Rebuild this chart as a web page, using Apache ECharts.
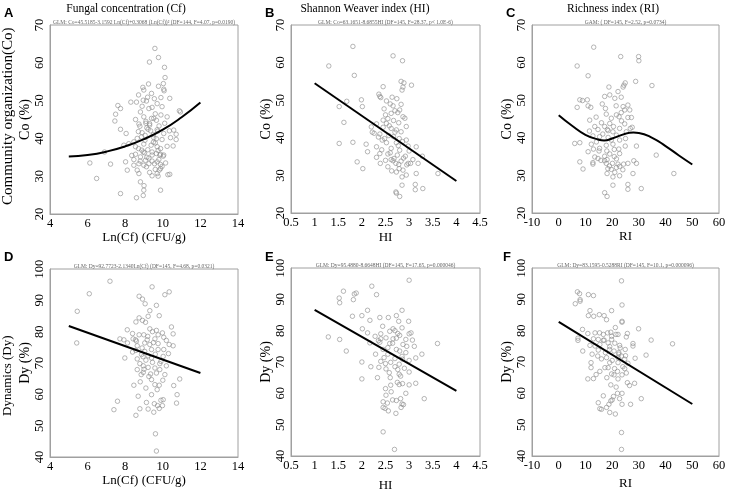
<!DOCTYPE html>
<html><head><meta charset="utf-8">
<script src="https://cdn.jsdelivr.net/npm/echarts@6/dist/echarts.min.js"></script>
<style>html,body{margin:0;padding:0;background:#fff}#c{width:730px;height:493px}</style>
</head><body><div id="c"></div>
<script>
// Panel A: Ln(Cf) vs Co
const aCf=[9.58,9.77,9.29,10.09,10.12,10.03,10.05,10.07,9.24,9.77,8.94,8.99,8.71,9.40,9.19,9.13,10.37,7.61,7.75,8.30,8.60,8.96,7.49,8.81,8.99,9.26,9.43,9.70,9.96,10.94,10.88,7.45,9.40,9.52,9.66,10.23,8.73,8.78,7.75,8.05,9.15,9.22,9.35,9.70,9.73,10.05,10.35,10.58,10.71,8.87,9.06,9.52,9.66,9.96,10.41,10.71,8.46,8.64,8.19,8.99,9.38,9.70,9.88,10.23,10.55,7.93,8.71,8.88,9.43,9.66,9.84,10.02,8.96,8.55,6.12,7.22,6.48,6.90,7.75,8.60,8.96,8.99,9.00,8.81,9.88,9.43,9.70,9.81,9.88,10.27,10.37,8.64,8.11,8.73,8.46,8.73,8.99,9.13,9.26,9.43,9.56,9.70,9.88,9.96,8.46,8.81,9.08,9.26,9.79,8.55,9.03,9.43,9.88,10.05,8.02,9.10,9.30,9.60,8.90,9.50,9.10,9.30,9.50,9.80,9.05,9.20,9.60,8.80,9.30,9.60,9.75,8.70,9.90,10.10,8.90,9.55,9.90,8.55,9.15,9.75,10.15,8.35];
const aCo=[63.8,61.4,60.2,58.8,56.1,54.5,53.0,52.6,54.4,53.8,53.5,52.8,51.5,51.9,50.9,49.9,50.6,48.7,47.9,49.6,49.6,50.1,46.4,47.0,45.7,47.9,48.2,49.2,48.4,47.0,47.3,44.6,45.3,45.3,44.8,45.7,43.8,43.2,42.4,41.3,42.8,42.4,42.0,42.3,41.9,41.3,42.0,42.2,41.1,40.4,40.8,40.2,39.9,39.7,40.2,39.7,39.1,40.0,38.6,38.5,38.2,37.8,37.3,37.9,38.0,38.2,37.3,36.9,36.4,36.0,35.6,35.3,36.4,37.8,33.5,33.2,29.4,36.4,25.4,24.3,24.9,26.3,27.5,28.5,26.3,30.1,30.7,31.6,32.0,30.4,30.5,31.6,31.6,30.7,32.9,33.3,32.9,32.5,33.3,34.0,33.3,33.8,33.1,32.6,34.4,35.1,34.2,34.8,34.4,35.8,36.2,35.6,35.8,35.6,33.8,44.0,43.5,46.5,41.5,39.0,44.5,43.9,41.0,43.3,39.5,37.0,38.8,34.0,31.0,31.8,36.8,41.8,46.2,44.0,48.5,50.5,50.8,45.0,35.0,30.0,33.5,35.5];
const aFitX=[5,6,7,8,9,10,11,12];
const aFitY=[35.2,35.6,36.5,37.9,39.8,42.3,45.6,49.5];
// Panel B: HI vs Co
const bHI=[1.30,1.81,2.66,2.86,1.84,2.83,3.05,2.89,2.87,2.45,2.85,2.36,2.38,2.40,2.64,2.74,2.52,1.68,1.99,2.01,1.52,2.66,2.83,2.80,2.76,2.62,2.50,2.87,2.91,2.55,2.45,2.67,1.62,2.94,2.52,2.31,2.45,2.20,2.62,2.73,2.83,2.26,2.38,2.57,2.67,2.79,2.94,1.81,1.52,2.09,2.43,2.52,2.73,2.98,3.15,2.31,2.62,2.80,2.12,2.38,2.55,2.75,2.92,3.28,2.31,2.62,2.66,2.83,3.08,1.90,2.39,2.72,2.98,3.03,3.19,2.02,2.55,2.79,2.87,2.73,3.15,3.61,2.94,2.85,2.85,3.13,3.13,3.29,2.73,2.80,2.72,2.58,2.70,2.48,2.77,2.60,2.68,2.88,2.50,2.95,2.78,2.63,2.47,2.70,2.60,2.78,2.35,2.86,2.42,2.22,3.00];
const bCo=[59.1,64.3,61.8,60.5,56.6,55.0,54.0,54.6,53.5,53.6,52.7,51.6,51.0,50.7,50.8,50.4,49.8,49.7,50.1,48.3,48.3,48.5,48.9,47.4,46.7,46.5,46.1,45.6,45.2,45.1,44.7,44.6,44.1,43.0,43.8,43.7,42.8,42.9,42.5,42.1,41.6,41.2,41.0,40.6,40.3,39.8,39.4,38.8,38.5,38.3,39.4,38.7,38.7,37.8,37.6,37.6,37.2,36.7,36.3,35.8,35.7,35.4,35.1,35.1,34.8,34.2,33.9,33.8,34.2,33.6,33.2,33.2,33.2,33.2,33.2,31.8,32.3,31.8,31.4,30.9,30.5,30.5,30.1,29.6,27.4,27.6,26.2,26.5,25.3,24.4,25.6,43.2,41.5,39.8,37.9,36.0,34.5,34.6,34.0,32.8,32.9,31.2,47.7,47.2,49.0,44.0,40.2,39.0,36.8,41.5,36.5];
const bFitX=[1,4];
const bFitY=[54.5,28.5];
// Panel C: RI vs Co
const cRI=[13.1,29.9,23.2,30.0,6.9,11.0,28.8,34.9,24.9,24.4,24.1,18.8,22.2,7.9,8.9,10.7,17.2,19.1,21.0,23.4,6.9,11.0,12.0,16.3,25.9,26.6,24.1,24.7,23.4,21.6,17.8,19.7,25.9,27.2,22.6,11.6,19.1,16.0,17.2,24.7,26.8,22.8,13.5,14.7,18.5,20.3,21.6,25.3,12.8,15.3,18.5,19.7,22.8,6.0,7.9,12.2,14.1,17.8,20.3,24.9,29.1,20.8,15.3,15.1,11.0,19.1,22.8,17.2,36.5,13.5,14.7,18.1,21.6,17.2,12.8,7.9,17.8,20.1,22.2,24.3,25.9,29.1,12.8,18.4,19.7,21.6,22.8,28.1,9.1,18.1,22.8,27.8,43.1,20.3,20.3,25.9,25.9,30.9,17.2,18.1,20.5,18.0,22.5,16.5,23.5,19.0,21.0,15.8,25.0,17.5,14.0,13.0,21.5,27.5,11.5,18.2,20.8,24.0];
const cCo=[64.1,61.6,61.6,60.5,59.1,56.5,55.0,53.9,54.6,54.0,53.5,53.5,52.3,50.1,49.9,50.1,51.0,51.4,50.5,50.8,48.1,48.5,48.1,49.0,48.7,47.4,48.3,47.4,46.7,46.1,46.3,45.2,45.4,45.4,45.6,44.7,43.8,44.0,43.0,43.7,42.5,42.5,43.0,42.2,41.9,41.6,40.7,41.6,40.5,40.3,40.1,39.4,39.4,38.5,38.7,38.3,38.9,38.0,38.3,37.8,37.8,36.9,37.2,36.5,36.3,35.7,35.8,35.1,35.4,34.9,34.5,34.2,34.4,33.9,33.4,33.6,33.2,33.2,33.0,33.0,33.2,33.2,33.0,31.8,31.6,32.1,32.4,33.9,31.7,30.5,29.9,30.5,30.5,29.6,27.4,27.6,26.3,26.5,25.4,24.4,43.0,36.5,37.0,41.0,44.5,32.5,30.8,34.0,39.8,47.8,45.5,37.0,48.5,42.8,41.8,42.2,35.0,31.5];
const cFitX=[0,5,10,15,17,20,25,28,30,35,40,45,50];
const cFitY=[46.0,43.2,40.8,39.5,39.3,39.8,41.1,41.4,41.3,40.0,37.8,35.3,32.9];
// Panel D: Ln(Cf) vs Dy
const dCf=[7.19,6.09,5.45,5.42,9.43,8.74,8.92,10.11,10.34,9.06,9.66,9.31,9.22,9.81,8.74,8.92,8.57,9.08,10.46,8.11,9.31,9.66,9.98,8.39,8.74,8.99,10.05,10.55,7.72,7.93,8.42,8.55,9.17,9.58,10.19,10.34,10.55,8.12,8.64,9.04,9.31,9.75,10.05,8.57,9.04,9.40,9.75,8.39,8.87,9.22,9.40,10.02,7.98,8.64,9.10,9.45,9.84,8.78,8.96,9.22,10.19,9.58,9.84,8.64,8.96,9.66,10.11,8.85,9.26,10.90,9.40,9.81,8.46,10.58,9.58,8.69,9.40,10.02,9.90,9.13,10.76,7.59,10.73,9.72,9.98,9.81,8.78,9.22,7.40,9.52,8.57,9.61,9.66,9.50,9.20,8.90,9.60,9.00,9.35,9.70,8.80,9.90,9.45,8.60,10.30,9.10,9.55,8.95,9.75,10.00];
const dDy=[96.1,92.1,86.5,76.4,94.3,91.3,90.4,91.8,92.7,88.9,88.4,86.7,84.9,85.1,84.4,83.6,83.1,83.0,81.5,80.6,80.9,80.4,79.6,79.4,79.0,79.0,78.2,79.3,77.7,77.4,77.7,77.4,77.4,77.7,77.2,75.9,75.5,76.4,75.5,76.4,75.9,76.2,74.3,74.0,73.7,74.3,74.3,73.5,72.7,72.3,71.6,72.1,71.6,71.3,70.9,70.2,69.8,69.8,69.1,68.6,69.1,68.4,67.9,67.9,67.0,66.8,66.3,66.3,65.7,64.9,64.7,62.9,62.9,62.8,63.1,59.4,59.9,58.3,58.1,57.4,59.9,57.8,57.2,56.4,56.4,55.5,55.4,55.3,55.1,54.3,53.3,47.4,41.9,76.5,78.5,74.8,72.8,68.0,66.5,61.5,64.0,70.5,80.0,77.0,73.0,62.0,57.0,72.0,79.0,64.5];
const dFitX=[5,12];
const dFitY=[81.8,66.8];
// Panel E: HI vs Dy
const eHI=[3.00,1.29,1.53,1.67,1.52,1.53,1.61,1.84,1.88,1.82,1.80,2.00,2.12,2.31,2.21,2.85,2.38,2.56,2.73,2.78,2.99,2.01,2.17,2.44,2.66,2.85,3.04,2.12,2.59,2.76,3.00,2.28,2.40,2.51,2.66,2.73,2.93,3.07,2.17,2.38,2.59,2.87,3.11,3.60,2.55,2.73,2.93,2.29,3.27,3.14,2.47,2.70,2.86,3.00,2.00,2.40,2.61,2.79,2.19,2.36,2.51,2.76,3.00,2.58,2.79,2.33,2.00,2.82,3.14,2.86,2.79,2.61,3.00,2.93,2.51,2.82,2.65,3.32,2.73,2.45,2.54,2.85,2.88,2.45,2.49,2.56,2.72,2.83,2.45,2.69,2.65,2.55,2.80,2.45,2.70,2.90,2.60,2.75,2.40,2.85,2.50,2.95,2.62,2.70,2.35,2.80,2.50];
const eDy=[96.1,78.0,77.2,73.5,90.4,88.9,92.6,91.7,92.0,89.9,84.6,84.8,86.5,91.5,94.2,86.5,84.2,84.2,84.8,83.0,83.0,80.6,83.3,81.4,80.6,80.9,79.3,79.3,79.8,79.1,79.0,78.2,77.4,77.7,77.4,77.6,77.2,77.0,76.1,76.3,75.9,75.6,75.0,75.9,74.6,74.0,73.0,72.5,72.5,71.3,71.4,71.1,70.9,70.5,70.0,70.2,69.9,69.3,68.5,68.3,67.8,67.6,66.8,66.6,66.1,65.0,64.6,65.5,63.2,63.1,62.8,62.6,62.7,60.0,59.4,58.3,57.9,58.3,57.7,57.3,56.9,56.6,56.4,55.5,55.2,54.4,53.6,55.5,47.7,42.1,76.0,72.5,73.5,74.0,68.5,68.0,65.0,63.5,79.0,71.8,69.5,75.0,60.5,80.0,76.8,78.5,61.5];
const eFitX=[1,4];
const eFitY=[86.6,60.8];
// Panel F: RI vs Dy
const fRI=[23.5,7.0,7.8,6.2,8.0,8.0,11.1,13.0,23.7,11.7,19.8,11.1,13.1,15.2,17.0,17.9,23.7,23.7,21.2,8.9,29.9,25.7,7.2,7.2,10.9,13.6,15.3,16.7,18.3,19.8,21.4,22.2,25.3,34.6,42.6,27.8,27.8,13.0,14.8,16.7,18.5,19.8,11.7,13.6,15.4,19.1,22.8,24.9,9.0,14.8,20.7,22.5,23.5,32.7,14.6,17.9,22.2,24.7,28.6,12.1,19.1,22.2,25.9,12.1,17.3,18.5,20.9,24.7,15.4,19.8,20.7,23.7,25.3,10.9,13.0,22.2,25.7,28.4,26.5,19.5,22.0,23.7,16.7,20.0,19.5,18.8,23.7,26.9,30.9,14.8,15.4,16.0,17.9,19.1,21.2,22.8,23.5,23.5,19.0,21.0,17.5,22.5,20.0,18.0,24.0,16.0,21.5,23.0,19.5,25.0,14.0,22.0,17.0,20.5,12.5];
const fDy=[95.9,92.4,91.8,88.6,89.9,89.4,91.5,91.2,88.2,86.4,86.4,84.8,84.6,85.1,84.8,83.5,83.0,82.7,81.0,80.4,80.6,79.1,77.6,76.9,79.1,79.3,79.3,78.8,79.3,78.2,78.8,78.8,78.0,77.0,75.8,75.9,75.1,77.4,77.2,76.9,76.1,77.2,75.3,75.1,75.6,74.9,75.3,74.0,73.5,73.8,73.5,73.0,71.9,72.2,71.9,71.4,71.4,70.9,71.2,69.8,69.8,69.8,69.6,68.2,68.2,68.2,67.9,67.9,67.0,66.2,65.9,65.9,66.5,64.6,64.7,64.6,63.4,63.2,62.5,62.7,60.0,60.0,59.2,57.9,57.6,56.5,56.5,56.5,58.3,57.0,55.1,54.9,55.5,53.9,53.4,58.3,47.5,42.1,74.0,76.0,73.0,72.5,70.5,65.0,68.5,71.0,62.0,74.5,79.5,72.0,66.0,67.0,77.0,59.0,72.5];
const fFitX=[0,50];
const fFitY=[82.8,56.6];

const titles=['Fungal concentration (Cf)','Shannon Weaver index (HI)','Richness index (RI)'];
const letters=['A','B','C','D','E','F'];
const eqs=['GLM: Co=45.5185-3.1592 Ln(Cf)+0.3068 (Ln(Cf))² (DF=144, F=4.07, p=0.0190)',
 'GLM: Co=63.1651-8.6855HI (DF=145, F=28.37, p< 1.0E-6)',
 'GAM: ( DF=145, F=2.52, p=0.0734)',
 'GLM: Dy=92.7723-2.1340Ln(Cf) (DF=145, F=4.68, p=0.0321)',
 'GLM: Dy=95.4880-8.6648HI (DF=145, F=17.65, p=0.000046)',
 'GLM: Dy=83.1595-0.5288RI (DF=145, F=10.1, p=0.000096)'];
const xNames=['Ln(Cf) (CFU/g)','HI','RI','Ln(Cf) (CFU/g)','HI','RI'];
const yNames=['Co (%)','Co (%)','Co (%)','Dy (%)','Dy (%)','Dy (%)'];
const xRanges=[[4,14,2],[0.5,4.5,0.5],[-10,60,10],[4,14,2],[0.5,4.5,0.5],[-10,60,10]];
const yRanges=[[20,70,10],[20,70,10],[20,70,10],[40,100,10],[40,100,10],[40,100,10]];

const pts=[[aCf,aCo],[bHI,bCo],[cRI,cCo],[dCf,dDy],[eHI,eDy],[fRI,fDy]];
const fits=[[aFitX,aFitY],[bFitX,bFitY],[cFitX,cFitY],[dFitX,dFitY],[eFitX,eFitY],[fFitX,fFitY]];

const grids=[
 {left:50,top:25,width:188,height:189},
 {left:291,top:25,width:189,height:188},
 {left:532,top:25,width:187,height:188},
 {left:50,top:269,width:188,height:188},
 {left:291,top:268,width:189,height:188},
 {left:532,top:268,width:187,height:188}];
const xNameGap=[17,18,17,15,23,21];

const serif='"Liberation Serif","Times New Roman",serif';
const gray='#a0a0a0';
const option={animation:false,grid:[],xAxis:[],yAxis:[],series:[],graphic:[]};
grids.forEach((g,i)=>{
 option.grid.push(Object.assign({show:true,borderColor:gray,borderWidth:1,backgroundColor:'#fff'},g));
 option.xAxis.push({type:'value',gridIndex:i,min:xRanges[i][0],max:xRanges[i][1],interval:xRanges[i][2],
  axisLine:{onZero:false,lineStyle:{color:gray}},axisTick:{show:false},splitLine:{show:false},
  axisLabel:{color:'#000',fontFamily:serif,fontSize:12.5,margin:3,showMinLabel:true,showMaxLabel:true},
  name:xNames[i],nameLocation:'middle',nameGap:xNameGap[i],nameTextStyle:{color:'#000',fontFamily:serif,fontSize:13}});
 option.yAxis.push({type:'value',gridIndex:i,min:yRanges[i][0],max:yRanges[i][1],interval:yRanges[i][2],
  axisLine:{onZero:false,lineStyle:{color:gray}},axisTick:{show:false},splitLine:{show:false},
  axisLabel:{color:'#000',fontFamily:serif,fontSize:12.5,margin:4,rotate:90,showMinLabel:true,showMaxLabel:true},
  name:yNames[i],nameLocation:'middle',nameGap:14,nameRotate:90,nameTextStyle:{color:'#000',fontFamily:serif,fontSize:14}});
 const [xs,ys]=pts[i];
 option.series.push({type:'scatter',xAxisIndex:i,yAxisIndex:i,data:xs.map((x,k)=>[x,ys[k]]),
  symbol:'circle',symbolSize:4.5,itemStyle:{color:'rgba(255,255,255,0)',borderColor:'#8c8c8c',borderWidth:0.8},z:2});
 const [fx,fy]=fits[i];
 option.series.push({type:'line',xAxisIndex:i,yAxisIndex:i,data:fx.map((x,k)=>[x,fy[k]]),
  smooth:fx.length>2?0.5:false,showSymbol:false,lineStyle:{color:'#000',width:2},z:3});
 option.graphic.push({type:'text',x:g.left+g.width/2,y:g.top-2,style:{text:eqs[i],font:'5.5px '+serif,fill:'#666',align:'center',verticalAlign:'middle'}});
 const lx=[4,265,506,4,265,503][i], ly=[7,7,7,251,251,251][i];
 option.graphic.push({type:'text',left:lx,top:ly,style:{text:letters[i],font:'bold 13px "Liberation Sans",Arial,sans-serif',fill:'#000'}});
});
const tcx=[126,365,613];
titles.forEach((t,i)=>{
 option.graphic.push({type:'text',x:tcx[i],y:3,style:{text:t,font:'11.5px '+serif,fill:'#000',align:'center'}});
});
option.graphic.push({type:'text',x:1,y:205,rotation:Math.PI/2,style:{text:'Community organization(Co)',font:'15px '+serif,fill:'#000'}});
option.graphic.push({type:'text',x:1,y:416,rotation:Math.PI/2,style:{text:'Dynamics (Dy)',font:'13px '+serif,fill:'#000'}});
const chart=echarts.init(document.getElementById('c'),null,{renderer:'canvas'});
chart.setOption(option);
</script></body></html>
